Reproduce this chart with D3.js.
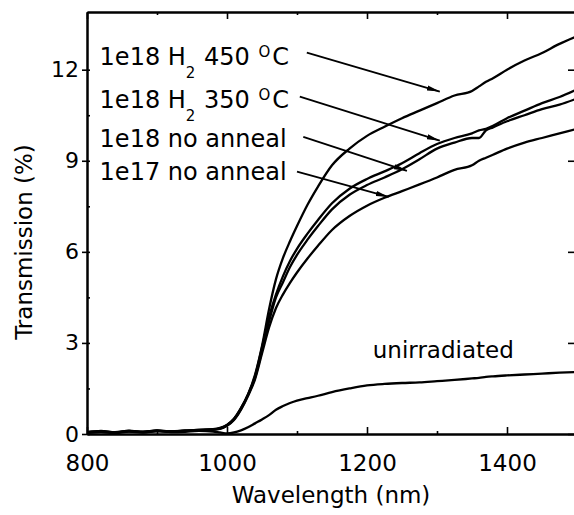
<!DOCTYPE html>
<html>
<head>
<meta charset="utf-8">
<script src="https://cdn.jsdelivr.net/npm/d3@7"></script>
<style>
    body { margin: 0; background: #fff; }
    text { font-family: "DejaVu Sans", sans-serif; fill: #000; }
</style>
</head>
<body>
<div id="chart"></div>
<script>
// wavelength grid (nm) shared by all curves
const wavelength = [800, 820, 840, 860, 880, 900, 920, 940, 960, 980, 990,
    1000, 1010, 1020, 1030, 1040, 1050, 1060, 1070, 1080, 1090, 1100,
    1115, 1130, 1150, 1175, 1200, 1225, 1250, 1275, 1300, 1325, 1350,
    1360, 1370, 1380, 1400, 1425, 1450, 1475, 1500];

// transmission (%)
const h2Anneal450 = [0.06, 0.09, 0.05, 0.11, 0.07, 0.12, 0.08, 0.10, 0.14, 0.16, 0.20,
    0.30, 0.50, 0.85, 1.30, 1.95, 2.90, 4.10, 5.10, 5.80, 6.35, 6.85,
    7.55, 8.15, 8.85, 9.40, 9.82, 10.12, 10.40, 10.65, 10.90, 11.15, 11.30,
    11.45, 11.60, 11.72, 12.00, 12.30, 12.55, 12.85, 13.10];
const h2Anneal350 = [0.05, 0.10, 0.06, 0.09, 0.08, 0.11, 0.07, 0.12, 0.12, 0.15, 0.19,
    0.30, 0.50, 0.85, 1.30, 1.90, 2.85, 3.85, 4.60, 5.20, 5.70, 6.10,
    6.60, 7.05, 7.60, 8.08, 8.40, 8.65, 8.92, 9.25, 9.55, 9.75, 9.90,
    10.00, 10.05, 10.15, 10.40, 10.65, 10.90, 11.10, 11.35];
const noAnneal1e18 = [0.07, 0.08, 0.06, 0.10, 0.06, 0.10, 0.09, 0.11, 0.13, 0.14, 0.18,
    0.28, 0.48, 0.82, 1.28, 1.85, 2.75, 3.70, 4.50, 5.00, 5.50, 5.90,
    6.40, 6.85, 7.40, 7.88, 8.20, 8.45, 8.72, 9.05, 9.40, 9.60, 9.75,
    9.75, 10.00, 10.10, 10.30, 10.50, 10.70, 10.85, 11.05];
const noAnneal1e17 = [0.05, 0.07, 0.05, 0.09, 0.07, 0.11, 0.08, 0.09, 0.12, 0.15, 0.17,
    0.27, 0.46, 0.80, 1.25, 1.80, 2.65, 3.50, 4.15, 4.60, 4.98, 5.32,
    5.78, 6.20, 6.72, 7.18, 7.52, 7.78, 8.00, 8.22, 8.45, 8.70, 8.85,
    9.00, 9.10, 9.20, 9.40, 9.60, 9.75, 9.90, 10.05];
const unirradiated = [0.04, 0.06, 0.03, 0.08, 0.05, 0.09, 0.06, 0.07, 0.10, 0.08, 0.05,
    0.02, 0.05, 0.12, 0.22, 0.35, 0.48, 0.62, 0.80, 0.92, 1.02, 1.10,
    1.18, 1.26, 1.38, 1.50, 1.60, 1.65, 1.68, 1.70, 1.74, 1.78, 1.83,
    1.85, 1.88, 1.90, 1.93, 1.96, 1.99, 2.02, 2.04];

// axis ticks
const xMajorTicks = [800, 1000, 1200, 1400];
const xMinorTicks = [900, 1100, 1300];
const yMajorTicks = [0, 3, 6, 9, 12];
const yMinorTicks = [1.5, 4.5, 7.5, 10.5];

const width = 574, height = 515;
const margin = {top: 12, right: -3, bottom: 81, left: 87};

let svg = d3.select("#chart").append("svg")
    .attr("width", width)
    .attr("height", height);

let x = d3.scaleLinear()
    .domain([800, 1500])
    .range([margin.left, width - margin.right]);

let y = d3.scaleLinear()
    .domain([0, 13.9])
    .range([height - margin.bottom, margin.top]);

// clip so the curves stay inside the frame
svg.append("clipPath").attr("id", "plotClip")
    .append("rect")
    .attr("x", x(800)).attr("y", y(13.9))
    .attr("width", x(1500) - x(800)).attr("height", y(0) - y(13.9));

// curves
let series = [h2Anneal450, h2Anneal350, noAnneal1e18, noAnneal1e17, unirradiated];

let line = d3.line()
    .x((d, i) => x(wavelength[i]))
    .y(d => y(d))
    .curve(d3.curveMonotoneX);

svg.append("g")
    .attr("clip-path", "url(#plotClip)")
    .selectAll("path")
    .data(series)
    .enter().append("path")
    .attr("d", d => line(d))
    .attr("fill", "none")
    .attr("stroke", "#000")
    .attr("stroke-width", 2.3)
    .attr("stroke-linejoin", "round");

// axes (ticks point inward)
function styleAxis(g) {
    g.select(".domain").attr("stroke", "#000").attr("stroke-width", 2);
    g.selectAll(".tick line").attr("stroke", "#000").attr("stroke-width", 1.6);
    g.selectAll("text")
        .style("font-family", '"DejaVu Sans", sans-serif')
        .style("font-size", "23px")
        .attr("fill", "#000");
}

svg.append("g")
    .attr("transform", `translate(0, ${y(0)})`)
    .call(d3.axisBottom(x).tickValues(xMajorTicks).tickSize(-7).tickSizeOuter(0).tickPadding(21).tickFormat(d3.format("d")))
    .call(styleAxis);

svg.append("g")
    .attr("transform", `translate(0, ${y(0)})`)
    .call(d3.axisBottom(x).tickValues(xMinorTicks).tickSize(-3).tickSizeOuter(0).tickFormat(""))
    .call(styleAxis);

svg.append("g")
    .attr("transform", `translate(0, ${y(13.9)})`)
    .call(d3.axisTop(x).tickValues(xMajorTicks).tickSize(-7).tickSizeOuter(0).tickFormat(""))
    .call(styleAxis);

svg.append("g")
    .attr("transform", `translate(0, ${y(13.9)})`)
    .call(d3.axisTop(x).tickValues(xMinorTicks).tickSize(-3).tickSizeOuter(0).tickFormat(""))
    .call(styleAxis);

let yAxis = svg.append("g")
    .attr("transform", `translate(${x(800)}, 0)`)
    .call(d3.axisLeft(y).tickValues(yMajorTicks).tickSize(5).tickSizeOuter(0).tickPadding(3))
    .call(styleAxis);
yAxis.selectAll(".tick line").attr("x2", -5).attr("x1", 3);
yAxis.selectAll(".tick text").style("font-size", "22px");

svg.append("g")
    .attr("transform", `translate(${x(800)}, 0)`)
    .call(d3.axisLeft(y).tickValues(yMinorTicks).tickSize(-3).tickSizeOuter(0).tickFormat(""))
    .call(styleAxis);

svg.append("g")
    .attr("transform", `translate(${x(1500)}, 0)`)
    .call(d3.axisRight(y).tickValues(yMajorTicks).tickSize(-9).tickSizeOuter(0).tickFormat(""))
    .call(styleAxis);

// axis titles
svg.append("text")
    .attr("x", x(1150) - 1)
    .attr("y", 503)
    .attr("text-anchor", "middle")
    .style("font-size", "23px")
    .text("Wavelength (nm)");

svg.append("text")
    .attr("transform", "translate(32, 242) rotate(-90)")
    .attr("text-anchor", "middle")
    .style("font-size", "23px")
    .text("Transmission (%)");

// curve labels with arrows
svg.append("defs").append("marker")
    .attr("id", "arrowHead")
    .attr("viewBox", "0 -3 13 6")
    .attr("refX", 13).attr("refY", 0)
    .attr("markerWidth", 13).attr("markerHeight", 6)
    .attr("markerUnits", "userSpaceOnUse")
    .attr("orient", "auto")
    .append("path")
    .attr("d", "M0,-2.6L13,0L0,2.6Z")
    .attr("fill", "#000");

// parts: [text, shift]  shift -1 = subscript, 1 = superscript
let labels = [
    {parts: [["1e18 H", 0], ["2", -1], [" 450 ", 0], ["O", 1], ["C", 0]], wl: 818, t: 12.17, from: [1114, 12.56], to: [1304, 11.28]},
    {parts: [["1e18 H", 0], ["2", -1], [" 350 ", 0], ["O", 1], ["C", 0]], wl: 818, t: 10.75, from: [1104, 11.11], to: [1304, 9.66]},
    {parts: [["1e18 no anneal", 0]], wl: 818, t: 9.46, from: [1109, 9.79], to: [1257, 8.67]},
    {parts: [["1e17 no anneal", 0]], wl: 818, t: 8.37, from: [1100, 8.64], to: [1231, 7.81]}
];

labels.forEach(function(l) {
    let txt = svg.append("text")
        .attr("x", x(l.wl))
        .attr("y", y(l.t))
        .style("font-size", "24px");
    let prevShift = 0;
    l.parts.forEach(function(p) {
        let off = p[1] === -1 ? 13 : (p[1] === 1 ? -8 : 0);
        let ts = txt.append("tspan")
            .attr("dy", off - prevShift)
            .style("font-size", p[1] === 0 ? "24px" : "15px")
            .text(p[0]);
        if (p[1] === 1) ts.attr("dx", 1);
        if (p[0] === "C") ts.attr("dx", 2);
        if (p[0].startsWith(" ")) ts.attr("dx", 1);
        prevShift = off;
    });

    svg.append("line")
        .attr("x1", x(l.from[0])).attr("y1", y(l.from[1]))
        .attr("x2", x(l.to[0])).attr("y2", y(l.to[1]))
        .attr("stroke", "#000")
        .attr("stroke-width", 1.8)
        .attr("marker-end", "url(#arrowHead)");
});

svg.append("text")
    .attr("x", x(1309))
    .attr("y", y(2.5))
    .attr("text-anchor", "middle")
    .style("font-size", "23px")
    .text("unirradiated");
</script>
</body>
</html>
